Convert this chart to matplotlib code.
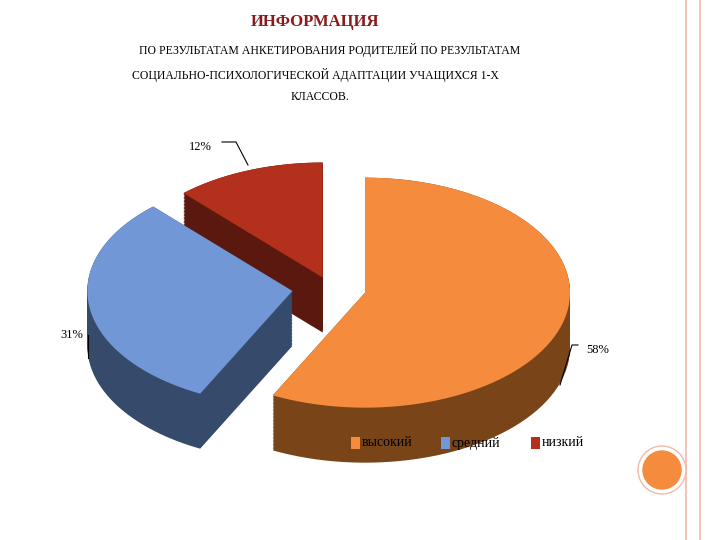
import numpy as np
import matplotlib.pyplot as plt
from matplotlib.patches import Polygon, Circle

labels = ["высокий", "средний", "низкий"]
values = [58, 31, 12]
pct_labels = ["58%", "31%", "12%"]
top_colors = ["#F58B3C", "#7297D6", "#B2301C"]
side_colors = ["#7A4419", "#364A6B", "#5A180E"]

fig = plt.figure(figsize=(7.2, 5.4), dpi=100)
ax = fig.add_axes([0, 0, 1, 1])
ax.set_xlim(0, 720)
ax.set_ylim(540, 0)
ax.axis("off")

serif = ["Liberation Serif", "DejaVu Serif"]

# title
ax.text(315, 22, "ИНФОРМАЦИЯ", ha="center", va="center", fontsize=12,
        fontweight="bold", color="#8B1A1A", family=serif)
ax.text(330, 50, "ПО РЕЗУЛЬТАТАМ АНКЕТИРОВАНИЯ РОДИТЕЛЕЙ ПО РЕЗУЛЬТАТАМ",
        ha="center", va="center", fontsize=8.5, family=serif)
ax.text(315, 75, "СОЦИАЛЬНО-ПСИХОЛОГИЧЕСКОЙ АДАПТАЦИИ УЧАЩИХСЯ 1-Х",
        ha="center", va="center", fontsize=8.5, family=serif)
ax.text(320, 97, "КЛАССОВ.", ha="center", va="center", fontsize=8.5, family=serif)

# decorations
ax.plot([686, 686], [0, 540], color="#F4B9A8", lw=1.2)
ax.plot([700, 700], [0, 540], color="#F4B9A8", lw=1.2)
ax.add_patch(Circle((662, 470), 24, color="white", ec="#F4B9A8", lw=1, zorder=3))
ax.add_patch(Circle((662, 470), 19, color="#F58B3C", zorder=4))

# 3D exploded pie
cx, cy, rx, ry, depth = 330, 288, 205, 115, 55
explode = [36, 38, 20]
total = sum(values)
angles = 90 - 360 * np.cumsum([0] + values) / total


def wedge(x0, y0, t1, t2):
    t = np.radians(np.linspace(t1, t2, 80))
    xs = np.r_[x0, x0 + rx * np.cos(t)]
    ys = np.r_[y0, y0 - ry * np.sin(t)]
    return np.column_stack([xs, ys])


order = [2, 1, 0]
for i in order:
    a1, a2 = angles[i], angles[i + 1]
    mid = np.radians((a1 + a2) / 2)
    x0 = cx + explode[i] * np.cos(mid)
    y0 = cy - explode[i] * np.sin(mid) * ry / rx
    for d in np.linspace(depth, 0, 40):
        ax.add_patch(Polygon(wedge(x0, y0 + d, a1, a2), closed=True,
                             fc=side_colors[i], ec="none", zorder=1))
    ax.add_patch(Polygon(wedge(x0, y0, a1, a2), closed=True,
                         fc=top_colors[i], ec="none", zorder=2))

# percent labels with leaders
ax.text(200, 147, pct_labels[2], ha="center", va="center", fontsize=9, family=serif)
ax.plot([222, 236, 248], [142, 142, 165], color="black", lw=0.8, zorder=5)
ax.text(72, 335, pct_labels[1], ha="center", va="center", fontsize=9, family=serif)
ax.plot([88, 88], [335, 358], color="black", lw=0.8, zorder=5)
ax.text(598, 350, pct_labels[0], ha="center", va="center", fontsize=9, family=serif)
ax.plot([578, 572, 560], [345, 345, 385], color="black", lw=0.8, zorder=5)

# legend
lx = [357, 447, 537]
for x, lab, col in zip(lx, labels, top_colors):
    ax.add_patch(Polygon([[x - 6, 437], [x + 3, 437], [x + 3, 449], [x - 6, 449]],
                         closed=True, fc=col, ec="none"))
    ax.text(x + 5, 443, lab, ha="left", va="center", fontsize=10, family=serif)

fig.savefig("out.png", dpi=100)
